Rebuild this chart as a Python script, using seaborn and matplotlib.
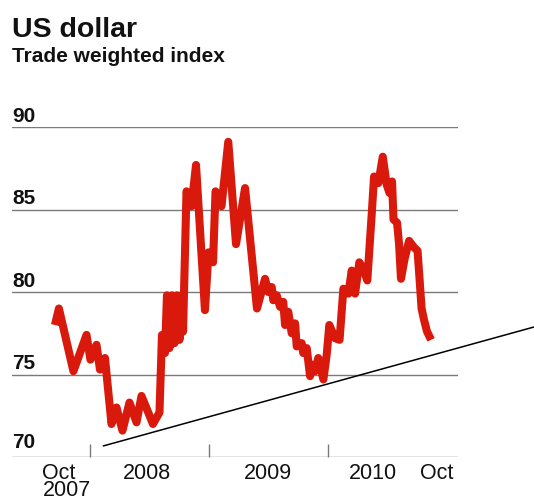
import matplotlib
matplotlib.use("Agg")
import matplotlib.pyplot as plt
import seaborn as sns
import pandas as pd

# Trade weighted US dollar index, weekly readings (decimal year, index value)
dates = [
    2007.706, 2007.739, 2007.861, 2007.971, 2008.004, 2008.055, 2008.084, 2008.126,
    2008.181, 2008.223, 2008.273, 2008.332, 2008.391, 2008.433, 2008.529, 2008.584,
    2008.605, 2008.630, 2008.647, 2008.668, 2008.689, 2008.710, 2008.731, 2008.752,
    2008.769, 2008.782, 2008.811, 2008.853, 2008.891, 2008.966, 2008.996, 2009.034,
    2009.055, 2009.105, 2009.162, 2009.227, 2009.303, 2009.403, 2009.471, 2009.498,
    2009.527, 2009.540, 2009.569, 2009.597, 2009.624, 2009.639, 2009.666, 2009.695,
    2009.723, 2009.737, 2009.779, 2009.792, 2009.821, 2009.849, 2009.863, 2009.891,
    2009.918, 2009.961, 2009.989, 2010.011, 2010.059, 2010.097, 2010.129, 2010.171,
    2010.199, 2010.227, 2010.263, 2010.297, 2010.330, 2010.367, 2010.387, 2010.423,
    2010.460, 2010.493, 2010.517, 2010.538, 2010.550, 2010.580, 2010.597, 2010.613,
    2010.643, 2010.681, 2010.723, 2010.752, 2010.769, 2010.786, 2010.807, 2010.832,
    2010.866,
]
index_values = [
    78.0, 79.0, 75.2, 77.4, 75.9, 76.8, 75.3, 76.0,
    72.0, 73.0, 71.6, 73.3, 72.1, 73.7, 72.0, 72.7,
    77.4, 76.3, 79.8, 76.6, 79.8, 76.9, 79.8, 77.1,
    79.8, 77.6, 86.1, 85.2, 87.7, 78.9, 82.4, 81.8,
    86.1, 85.2, 89.1, 82.9, 86.3, 79.0, 80.8, 80.0,
    80.3, 79.5, 79.8, 79.1, 79.4, 78.0, 78.8, 77.5,
    78.1, 76.7, 76.9, 76.3, 76.6, 74.9, 75.6, 75.2,
    76.0, 74.7, 76.2, 78.0, 77.2, 77.1, 80.2, 79.9,
    81.3, 79.9, 81.8, 81.4, 80.7, 84.7, 87.0, 86.6,
    88.2, 86.5, 86.0, 86.7, 84.4, 84.2, 82.9, 80.8,
    82.0, 83.1, 82.7, 82.5, 80.8, 79.0, 78.3, 77.6,
    77.1,
]

# Support trend line endpoints
trend_dates = [2008.112, 2011.731]
trend_values = [70.67, 77.88]

y_ticks = [70, 75, 80, 85, 90]
year_ticks = [2008, 2009, 2010]
x_label_pos = [2007.803, 2008.479, 2009.496, 2010.378, 2010.916]
x_labels = ["Oct\n2007", "2008", "2009", "2010", "Oct"]

df = pd.DataFrame({"date": dates, "index": index_values})

sns.set_style("white")
plt.rcParams["font.family"] = ["Liberation Sans", "DejaVu Sans"]

fig = plt.figure(figsize=(5.34, 5.01), dpi=100)
W, H = 534, 501
ax = fig.add_axes([12 / W, 1 - 457 / H, (458 - 12) / W, (457 - 127) / H])

sns.lineplot(data=df, x="date", y="index", sort=False, estimator=None,
             color="#d8190c", linewidth=5.8, ax=ax,
             solid_joinstyle="round", solid_capstyle="butt", zorder=3)
ax.plot(trend_dates, trend_values, color="black", linewidth=1.1,
        clip_on=False, zorder=4)

ax.set_xlim(2007.345, 2011.092)
ax.set_ylim(70, 90)
ax.set_xlabel("")
ax.set_ylabel("")

for s in ax.spines.values():
    s.set_visible(False)

# horizontal gridlines
ax.set_yticks(y_ticks)
ax.set_yticklabels([])
ax.tick_params(axis="y", length=0, left=False)
ax.yaxis.grid(True, color="#7a7a7a", linewidth=1.0)
ax.xaxis.grid(False)

for v in y_ticks:
    off = 6.5 if v == 70 else 3.8
    ax.annotate(str(v), xy=(0, v), xycoords=("axes fraction", "data"),
                xytext=(0, off), textcoords="offset points",
                ha="left", va="baseline", fontsize=15, fontweight="bold",
                color="#111111")

# year boundary ticks and period labels
ax.set_xticks(year_ticks)
ax.set_xticklabels([])
ax.tick_params(axis="x", which="major", bottom=True, direction="in",
               length=9.5, width=1.0, color="#7a7a7a")
ax.set_xticks(x_label_pos, minor=True)
ax.set_xticklabels(x_labels, minor=True, fontsize=15.5,
                   family=["Liberation Sans Narrow", "Liberation Sans"],
                   linespacing=0.74, color="#111111")
ax.tick_params(axis="x", which="minor", bottom=True, length=0, pad=4.5)
for lab in ax.get_xticklabels(minor=True):
    lab.set_multialignment("left")

fig.text(12 / W, 1 - 37 / H, "US dollar", fontsize=20.5, fontweight="bold",
         ha="left", va="baseline", color="#111111")
fig.text(12 / W, 1 - 62 / H, "Trade weighted index", fontsize=15,
         fontweight="bold", ha="left", va="baseline", color="#111111")

fig.savefig("out.png", dpi=100, facecolor="white")
